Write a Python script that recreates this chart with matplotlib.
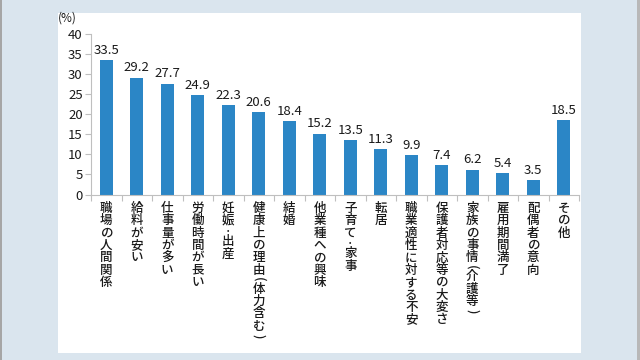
import matplotlib
matplotlib.use("Agg")
import matplotlib.pyplot as plt
from matplotlib.patches import Rectangle

plt.rcParams['font.family'] = ['Noto Sans CJK JP', 'DejaVu Sans']

categories = ["職場の人間関係", "給料が安い", "仕事量が多い", "労働時間が長い", "妊娠・出産",
              "健康上の理由(体力含む)", "結婚", "他業種への興味", "子育て・家事", "転居",
              "職業適性に対する不安", "保護者対応等の大変さ", "家族の事情(介護等)",
              "雇用期間満了", "配偶者の意向", "その他"]
values = [33.5, 29.2, 27.7, 24.9, 22.3, 20.6, 18.4, 15.2, 13.5, 11.3, 9.9, 7.4, 6.2, 5.4, 3.5, 18.5]
yticks = [0, 5, 10, 15, 20, 25, 30, 35, 40]

bg = '#dae5ee'
bar_color = '#2b86c6'
axis_color = '#bfbfbf'
text_color = '#1a1a1a'

fig = plt.figure(figsize=(6.4, 3.6), dpi=100)
fig.patch.set_facecolor(bg)
# white panel
fig.patches.append(Rectangle((58/640, 1-353/360), (581-58)/640, (353-13)/360,
                             transform=fig.transFigure, facecolor='white', edgecolor='none', zorder=-5))
# gray frame lines at left/right edges
fig.patches.append(Rectangle((0, 0), 2/640, 1, transform=fig.transFigure,
                             facecolor='#a6a6a6', edgecolor='none', zorder=-5))
fig.patches.append(Rectangle((637/640, 0), 3/640, 1, transform=fig.transFigure,
                             facecolor='#b8b8b8', edgecolor='none', zorder=-5))

ax = fig.add_axes([91/640, 1-194.5/360, (579-91)/640, (194.5-34.3)/360])
ax.set_zorder(2)
ax.set_facecolor('none')
x = list(range(len(values)))
bars = ax.bar(x, values, width=0.42, color=bar_color, zorder=2)
ax.set_xlim(-0.5, len(values)-0.5)
ax.set_ylim(0, 40)
ax.set_yticks(yticks)
ax.set_yticklabels([str(t) for t in yticks], fontsize=9.5, color=text_color)
for s in ['top', 'right']:
    ax.spines[s].set_visible(False)
for s in ['left', 'bottom']:
    ax.spines[s].set_color(axis_color)
    ax.spines[s].set_linewidth(0.8)
ax.tick_params(axis='y', length=4, color=axis_color, pad=2)
# x ticks between categories
ax.set_xticks([i - 0.5 for i in range(len(values)+1)])
ax.set_xticklabels([])
ax.tick_params(axis='x', length=4, color=axis_color, direction='out')

for xi, v in zip(x, values):
    ax.text(xi, v + 0.8, f"{v}", ha='center', va='bottom', fontsize=9.5, color=text_color)

# vertical (tategaki) category labels, one glyph per cell
full_cell = 12.4
half_cell = 6.5
dot_cell = 8.5
for xi, c in zip(x, categories):
    pos = 7.5
    for ch in c:
        fs = 9
        rot = 0
        if ch in "()":
            h = half_cell
            rot = -90
        elif ch == "・":
            h = dot_cell
            fs = 6
        else:
            h = full_cell
        ax.annotate(ch, xy=(xi, 0), xycoords='data', xytext=(0, -(pos + h / 2)),
                    textcoords='offset pixels', ha='center', va='center', rotation=rot,
                    fontsize=fs, fontweight='medium', color=text_color,
                    annotation_clip=False)
        pos += h

fig.text(58/640, 1-18/360, "(%)", ha='left', va='center', fontsize=8.5, color=text_color)

fig.savefig("out.png", dpi=100, facecolor=fig.get_facecolor())
